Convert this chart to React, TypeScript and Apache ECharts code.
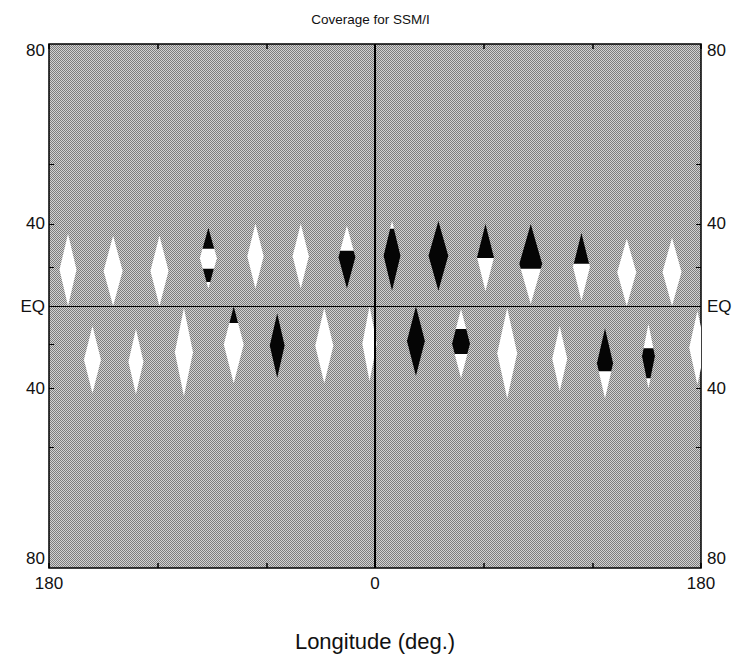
import React, { useEffect, useRef } from "react";
import * as echarts from "echarts";

const titleText = "Coverage for SSM/I";
const xName = "Longitude (deg.)";
const lonTicks = [-180, -120, -60, 0, 60, 120, 180];
const lonLabels = [-180, 0, 180];
const latTicks = [-60, -40, -20, 20, 40, 60];
const latLabels = [-80, -40, 0, 40, 80];
const latLimit = 80;

// Coverage gaps (diamonds): centre longitude, top latitude, bottom latitude, width (deg)
const gapLon = [-169.5, -144.6, -119, -92, -66, -41, -15.5, 9.4, 35, 61, 86, 114, 139, 164,
  -156, -132, -105.5, -78, -54, -28, -3, 22.6, 47.5, 73, 102, 127, 151, 178];
const gapTop = [35.9, 35.0, 35.0, 38.5, 40.1, 40.1, 39.3, 41.3, 41.3, 40.1, 40.1, 36.3, 33.7, 34.1,
  -10.6, -12.2, -1.1, 0, -3.7, -1.1, 0, 0, -1.6, -1.1, -10.6, -11.7, -9.6, -2.7];
const gapBottom = [0, 0, 0, 9.1, 9.1, 9.1, 9.1, 8.0, 8.0, 8.0, 1.1, 2.7, 0, 0,
  -42.1, -42.5, -43.3, -38.0, -35.9, -38.0, -37.2, -35.0, -35.9, -44.1, -41.3, -44.1, -40.1, -38.5];
const gapWidth = [9.4, 10.5, 10, 9.4, 9, 9, 9.4, 9.4, 11, 9.4, 12.7, 9.4, 10.5, 10.5,
  9.4, 8.3, 10, 11, 8.3, 10, 8, 10, 10, 11, 8.3, 9, 7.2, 9];

// Dark portions inside gaps: gap index, top latitude, bottom latitude
const darkGap = [3, 3, 6, 7, 8, 9, 10, 11, 17, 18, 21, 22, 25, 26];
const darkTop = [38.5, 19.4, 28.2, 38, 41.3, 40.1, 40.1, 36.3, 0, -3.7, 0, -12.2, -11.7, -21.9];
const darkBottom = [29.1, 12.7, 9.1, 8.0, 8.0, 24.8, 19.4, 21.9, -9.0, -35.9, -35.0, -24.8, -32.8, -35.9];

const merc = (lat: number) => Math.log(Math.tan(Math.PI / 4 + (lat * Math.PI) / 360));
const invMerc = (m: number) => (Math.atan(Math.sinh(m)) * 180) / Math.PI;
const M = merc(latLimit);

const FONT = "Liberation Sans";

function diamond(api: any, lon: number, top: number, bottom: number, w: number) {
  const t = api.coord([lon, top]);
  const b = api.coord([lon, bottom]);
  const l = api.coord([lon - w / 2, 0]);
  const r = api.coord([lon + w / 2, 0]);
  const my = (t[1] + b[1]) / 2;
  return [[t[0], t[1]], [r[0], my], [b[0], b[1]], [l[0], my]];
}

function clipY(poly: number[][], y1: number, y2: number) {
  const clip = (pts: number[][], keep: (y: number) => boolean, yc: number) => {
    const out: number[][] = [];
    for (let k = 0; k < pts.length; k++) {
      const a = pts[k];
      const b = pts[(k + 1) % pts.length];
      const ia = keep(a[1]);
      const ib = keep(b[1]);
      if (ia) out.push(a);
      if (ia !== ib) {
        const t = (yc - a[1]) / (b[1] - a[1]);
        out.push([a[0] + t * (b[0] - a[0]), yc]);
      }
    }
    return out;
  };
  let p = clip(poly, (y) => y >= y1, y1);
  p = clip(p, (y) => y <= y2, y2);
  return p;
}

const gapData = gapLon.map((lon, i) => [lon, merc(gapTop[i]), merc(gapBottom[i]), gapWidth[i]]);
const darkData = darkGap.map((g, i) => [
  gapLon[g], merc(gapTop[g]), merc(gapBottom[g]), gapWidth[g], merc(darkTop[i]), merc(darkBottom[i]),
]);

const fmtLat = (v: number) => {
  const lat = Math.round(invMerc(v));
  if (lat === 0) return "EQ";
  const s = String(Math.abs(lat));
  if (lat >= 80) return `{top|${s}}`;
  if (lat <= -80) return `{bot|${s}}`;
  return s;
};

const labelRich = {
  top: { padding: [12, 0, 0, 0], fontSize: 17, fontFamily: FONT, color: "#111" },
  bot: { padding: [0, 0, 20, 0], fontSize: 17, fontFamily: FONT, color: "#111" },
};

function yAxisFor(position: "left" | "right") {
  return {
    type: "value",
    position,
    min: -M,
    max: M,
    axisLine: { show: false, onZero: false },
    splitLine: { show: false },
    axisTick: {
      show: true,
      inside: true,
      length: 5,
      customValues: latTicks.map(merc),
      lineStyle: { color: "#000", width: 1 },
    },
    axisLabel: {
      show: true,
      customValues: latLabels.map(merc),
      formatter: fmtLat,
      margin: position === "left" ? 4 : 6,
      fontSize: 17,
      fontFamily: FONT,
      color: "#111",
      rich: labelRich,
    },
  };
}

function xAxisFor(position: "bottom" | "top") {
  return {
    type: "value",
    position,
    min: -180,
    max: 180,
    interval: 60,
    axisLine: { show: false, onZero: false },
    splitLine: { show: false },
    axisTick: {
      show: true,
      inside: true,
      length: 5,
      customValues: lonTicks,
      lineStyle: { color: "#000", width: 1.5 },
    },
    axisLabel: {
      show: position === "bottom",
      customValues: lonLabels,
      formatter: (v: number) => String(Math.abs(Math.round(v))),
      margin: 7,
      fontSize: 17,
      fontFamily: FONT,
      color: "#111",
    },
    name: position === "bottom" ? xName : "",
    nameLocation: "middle",
    nameGap: 62,
    nameTextStyle: { fontSize: 22, fontFamily: "Liberation Sans Narrow, Liberation Sans", color: "#111" },
  };
}

function makeStipple() {
  const c = document.createElement("canvas");
  c.width = 4;
  c.height = 4;
  const ctx = c.getContext("2d");
  if (!ctx) return "#a6a6a6";
  for (let i = 0; i < 4; i++) {
    for (let j = 0; j < 4; j++) {
      ctx.fillStyle = (i + j) % 2 === 0 ? "#7c7c7c" : "#d2d2d2";
      ctx.fillRect(i, j, 1, 1);
    }
  }
  return { image: c, repeat: "repeat", imageWidth: 4, imageHeight: 4 } as any;
}

export default function App() {
  const ref = useRef<HTMLDivElement>(null);
  useEffect(() => {
    const chart = echarts.init(ref.current!, null, { renderer: "svg" });
    chart.setOption({
      animation: false,
      backgroundColor: "#ffffff",
      title: {
        text: titleText,
        left: "center",
        top: 7,
        textStyle: { fontSize: 13.5, fontWeight: "normal", fontFamily: FONT, color: "#111" },
      },
      grid: {
        left: 49,
        right: 40,
        top: 44,
        bottom: 94,
        show: true,
        backgroundColor: makeStipple(),
        borderColor: "#000",
        borderWidth: 1.5,
      },
      xAxis: [xAxisFor("bottom"), xAxisFor("top")],
      yAxis: [yAxisFor("left"), yAxisFor("right")],
      series: [
        {
          type: "custom",
          name: "gaps",
          xAxisIndex: 0,
          yAxisIndex: 0,
          data: gapData,
          renderItem: (params: any, api: any) => {
            const pts = diamond(api, api.value(0), api.value(1), api.value(2), api.value(3));
            return {
              type: "polygon",
              shape: { points: pts },
              style: { fill: "#ffffff", stroke: null },
              clipPath: {
                type: "rect",
                shape: {
                  x: params.coordSys.x,
                  y: params.coordSys.y,
                  width: params.coordSys.width,
                  height: params.coordSys.height,
                },
              },
            };
          },
        },
        {
          type: "custom",
          name: "dark",
          xAxisIndex: 0,
          yAxisIndex: 0,
          data: darkData,
          renderItem: (params: any, api: any) => {
            const pts = diamond(api, api.value(0), api.value(1), api.value(2), api.value(3));
            const ya = api.coord([0, api.value(4)])[1];
            const yb = api.coord([0, api.value(5)])[1];
            const band = clipY(pts, Math.min(ya, yb), Math.max(ya, yb));
            return {
              type: "polygon",
              shape: { points: band },
              style: { fill: "#050505", stroke: null },
            };
          },
          markLine: {
            silent: true,
            symbol: ["none", "none"],
            label: { show: false },
            data: [
              { xAxis: 0, lineStyle: { color: "#000", width: 2, type: "solid" } },
              { yAxis: 0, lineStyle: { color: "#000", width: 1, type: "solid" } },
            ],
          },
        },
      ],
    });
    return () => chart.dispose();
  }, []);
  return <div ref={ref} style={{ position: "fixed", left: 0, top: 0, width: 741, height: 662 }} />;
}
